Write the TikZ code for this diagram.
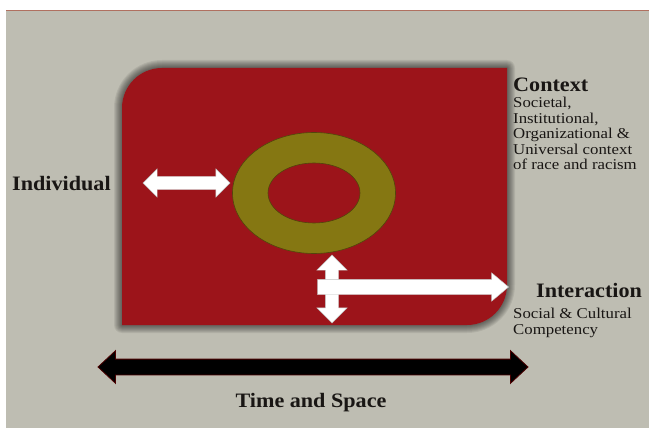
\documentclass[tikz,border=0pt]{standalone}
\usepackage{fontspec}
\setmainfont{Liberation Serif}
\newfontfamily\widebody[FakeStretch=1.12]{Liberation Serif}
\newfontfamily\widehead[FakeStretch=1.08]{Liberation Serif}
\usetikzlibrary{shapes.arrows,shapes.geometric}
\definecolor{bg}{RGB}{190,189,178}
\definecolor{redbox}{RGB}{156,20,26}
\definecolor{ringc}{RGB}{133,119,18}
\definecolor{topline}{RGB}{176,112,96}
\definecolor{txt}{RGB}{25,22,20}
\tikzset{
  whitedarrow/.style={double arrow, fill=white, draw=black!25, line width=0.4pt, inner xsep=0pt,
     text height=0pt, text depth=0pt, double arrow head indent=0pt, double arrow tip angle=90},
  head/.style={font=\widehead\bfseries\fontsize{20.5}{24}\selectfont, text=txt, inner sep=0pt},
  body/.style={font=\widebody\fontsize{15}{15.5}\selectfont, text=txt, inner sep=0pt, align=left},
}
\begin{document}
\begin{tikzpicture}[x=1pt,y=-1pt]
\useasboundingbox (0,0) rectangle (649,428);
\fill[white] (0,0) rectangle (649,428);
\fill[bg] (6,11) rectangle (649,428);
\draw[topline, line width=0.8pt] (6,10.5) -- (649,10.5);
% shadow of the red panel
\foreach \w in {2,4,...,16}{
  \draw[black, opacity=0.07, line width=\w pt, line join=round]
    (122,325) -- (122,108) arc(180:270:40) -- (507,68) -- (507,285) arc(0:90:40) -- cycle;
}
\fill[redbox] (122,325) -- (122,108) arc(180:270:40) -- (507,68) -- (507,285) arc(0:90:40) -- cycle;
% ring
\node[ellipse, fill=ringc, draw=ringc!60!black, line width=0.6pt, minimum width=163pt, minimum height=121pt, inner sep=0pt] (ring) at (314,193) {};
\node[ellipse, fill=redbox, draw=ringc!60!black, line width=0.6pt, minimum width=92pt, minimum height=60pt, inner sep=0pt] (hole) at (314,193) {};
% white arrows
\node[whitedarrow, minimum height=87pt, inner ysep=6.5pt, double arrow head extend=7.5pt] (indarrow) at (186.5,183) {};
\node[whitedarrow, rotate=90, minimum height=68pt, inner ysep=6.5pt, double arrow head extend=8.5pt] (vertarrow) at (332,289) {};
\node[single arrow, fill=white, draw=black!25, line width=0.4pt, inner xsep=0pt, text height=0pt, text depth=0pt,
      single arrow head indent=0pt, single arrow tip angle=80, minimum height=191pt, inner ysep=7.5pt,
      single arrow head extend=6.5pt] (intarrow) at (408.5,287) {};
% time and space arrow
\node[double arrow, fill=black, draw=red!30!black, line width=0.8pt, inner xsep=0pt, text height=0pt, text depth=0pt,
      double arrow head indent=0pt, double arrow tip angle=86, minimum height=430pt, inner ysep=7.5pt,
      double arrow head extend=8.5pt] (timearrow) at (313,367) {};
% texts
\node[head, anchor=base west] (context) at (513,91.5) {Context};
\node[body, anchor=north west] (contextbody) at (513,97) {Societal,\\Institutional,\\Organizational \&\\Universal context\\of race and racism};
\node[head, anchor=base west] (individual) at (12,190) {Individual};
\node[head, anchor=base west] (interaction) at (536,297) {Interaction};
\node[body, anchor=north west] (interbody) at (513,308) {Social \& Cultural\\Competency};
\node[head, anchor=base] (timespace) at (311,407) {Time and Space};
\end{tikzpicture}
\end{document}
